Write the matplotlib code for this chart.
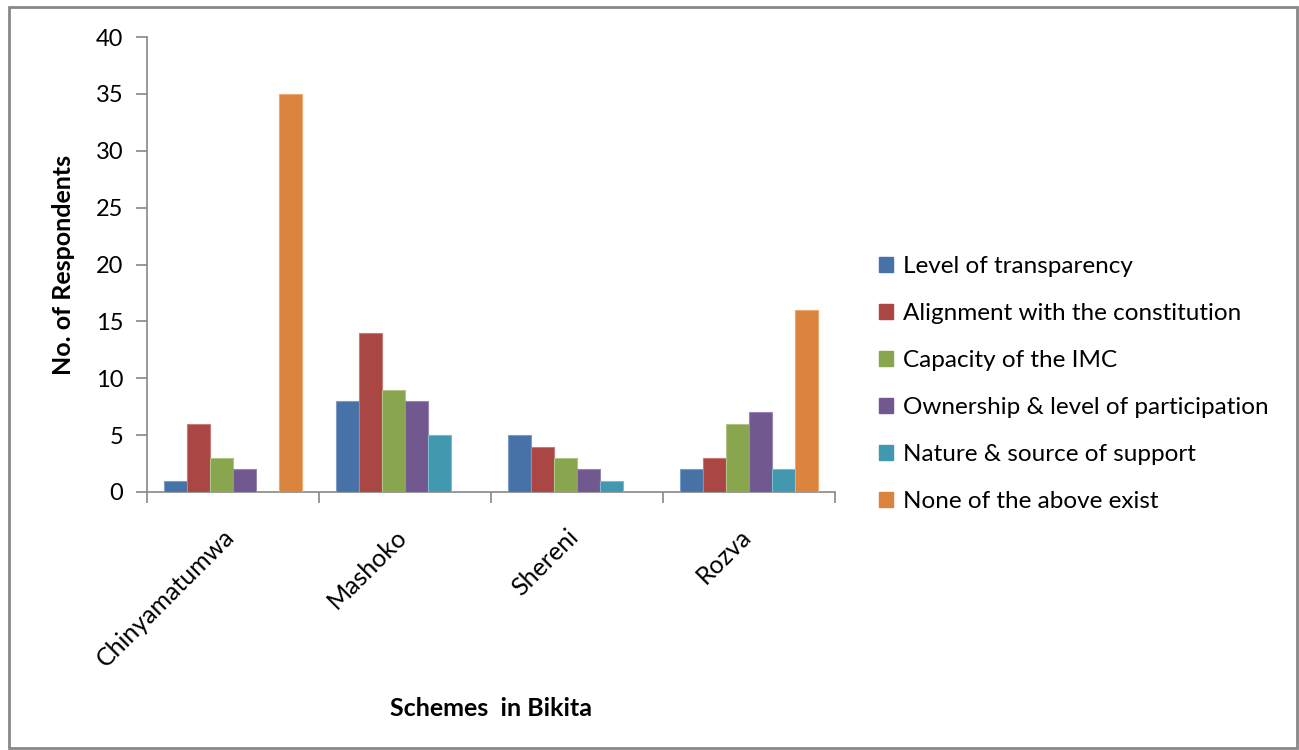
import matplotlib.pyplot as plt
import matplotlib.patches as mpatches
import matplotlib.transforms as mtrans
import numpy as np

## chart data
schemes = ['Chinyamatumwa', 'Mashoko', 'Shereni', 'Rozva']
series = ['Level of transparency', 'Alignment with the constitution', 'Capacity of the IMC',
          'Ownership & level of participation', 'Nature & source of support', 'None of the above exist']
transparency = [1, 8, 5, 2]
alignment = [6, 14, 4, 3]
capacity = [3, 9, 3, 6]
ownership = [2, 8, 2, 7]
support = [0, 5, 1, 2]
none_exist = [35, 0, 0, 16]
colors = ['#4672A8', '#AA4643', '#89A54E', '#71588F', '#4198AF', '#DB843D']
edges = ['#7C9CC6', '#C87A78', '#AFC585', '#9A86B3', '#79BCCF', '#EBA870']

plt.rcParams['font.family'] = ['Lato', 'DejaVu Sans']

fig = plt.figure(figsize=(12.99, 7.5), dpi=100)
ax = fig.add_axes([147/1299, 1-492/750, (835-147)/1299, (492-37)/750])

values = [transparency, alignment, capacity, ownership, support, none_exist]
x = np.arange(len(schemes))
w = 0.8 / 6
for i, vals in enumerate(values):
    ax.bar(x - 0.4 + w*(i+0.5), vals, w, color=colors[i], edgecolor=edges[i],
           linewidth=0.8, label=series[i], zorder=3)

ax.set_xlim(-0.5, 3.5)
ax.set_ylim(0, 40)
ax.set_yticks(range(0, 41, 5))
ax.set_xticks([])
ax.set_xticks(np.arange(-0.5, 4, 1), minor=True)
ax.tick_params(axis='x', which='minor', length=8, color='#888888', width=1.2)
ax.tick_params(axis='y', length=8, color='#888888', width=1.2, labelsize=17, pad=9)

# category labels, rotated like the original
lab_tr = ax.get_xaxis_transform() + mtrans.ScaledTranslation(6/100, -33/100, fig.dpi_scale_trans)
for xi, name in zip(x, schemes):
    ax.text(xi, 0, name, transform=lab_tr, rotation=45, ha='right', va='top', fontsize=18)

for s in ['top', 'right']:
    ax.spines[s].set_visible(False)
for s in ['left', 'bottom']:
    ax.spines[s].set_color('#888888')
    ax.spines[s].set_linewidth(1.2)

ax.set_ylabel('No. of Respondents', fontsize=18, fontweight='bold', labelpad=15)
fig.text(491/1299, 1-708/750, 'Schemes  in Bikita', fontsize=18, fontweight='bold',
         ha='center', va='center')

handles = [mpatches.Patch(color=c, label=l) for c, l in zip(colors, series)]
fig.legend(handles=handles, loc='upper left', bbox_to_anchor=(857/1299, 1-234/750),
           frameon=False, fontsize=17.5, labelspacing=1.07, handlelength=0.6,
           handleheight=0.6, handletextpad=0.4)

fig.add_artist(mpatches.Rectangle((9/1299, 2/750), (1297-9)/1299, (743-2)/750,
                                  transform=fig.transFigure, fill=False,
                                  edgecolor='#888888', linewidth=2))

fig.savefig('out.png', dpi=100)
